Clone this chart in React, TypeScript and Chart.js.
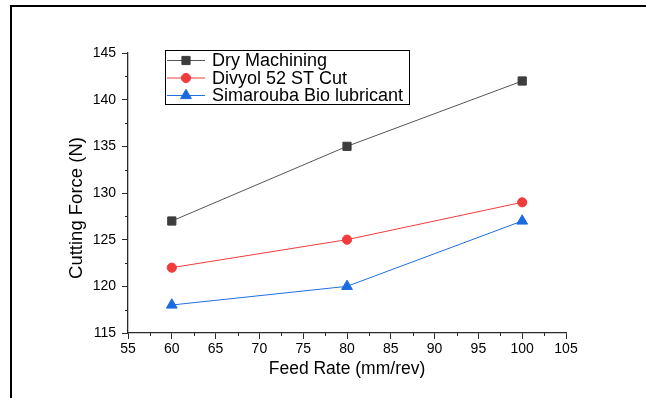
import React, { useEffect, useRef } from "react";
import { Chart, registerables } from "chart.js";
import { drawPoint } from "chart.js/helpers";

Chart.register(...registerables);

const feedRates = [60, 80, 100];
const dryMachining = [127, 135, 142];
const divyol = [122, 125, 129];
const simarouba = [118, 120, 127];
const seriesLabels = ["Dry Machining", "Divyol 52 ST Cut", "Simarouba Bio lubricant"];
const xTickRange = [55, 105];
const yTickRange = [115, 145];
const xTitle = "Feed Rate (mm/rev)";
const yTitle = "Cutting Force (N)";

const FONT = "'Liberation Sans', Arial, sans-serif";
const AXIS = "#2a2a2a";

const minorTicks = {
  id: "minorTicks",
  afterDraw(chart: any) {
    const ctx = chart.ctx;
    const xs = chart.scales.x;
    const ys = chart.scales.y;
    ctx.save();
    ctx.strokeStyle = AXIS;
    ctx.lineWidth = 1;
    for (let v = xTickRange[0] + 2.5; v < xTickRange[1]; v += 5) {
      const px = Math.round(xs.getPixelForValue(v)) + 0.5;
      ctx.beginPath();
      ctx.moveTo(px, xs.top);
      ctx.lineTo(px, xs.top + 3);
      ctx.stroke();
    }
    for (let v = yTickRange[0] + 2.5; v < yTickRange[1]; v += 5) {
      const py = Math.round(ys.getPixelForValue(v)) + 0.5;
      ctx.beginPath();
      ctx.moveTo(ys.right - 3, py);
      ctx.lineTo(ys.right, py);
      ctx.stroke();
    }
    // y-axis title (drawn slightly below the axis centre, as in the reference)
    const ya = chart.chartArea;
    ctx.translate(77, (ya.top + ya.bottom) / 2 + 15);
    ctx.rotate(-Math.PI / 2);
    ctx.fillStyle = "#000";
    ctx.font = `18.5px ${FONT}`;
    ctx.textAlign = "center";
    ctx.textBaseline = "middle";
    ctx.fillText(yTitle, 0, 0);
    ctx.restore();
  },
};

const boxLegend = {
  id: "boxLegend",
  afterDraw(chart: any) {
    const ctx = chart.ctx;
    const left = 165, top = 50, right = 409, bottom = 104;
    ctx.save();
    ctx.fillStyle = "#fff";
    ctx.fillRect(left, top, right - left, bottom - top);
    ctx.strokeStyle = "#000";
    ctx.lineWidth = 1;
    ctx.strokeRect(left + 0.5, top + 0.5, right - left, bottom - top);
    chart.data.datasets.forEach((ds: any, i: number) => {
      const y = 60.5 + i * 17.5;
      ctx.strokeStyle = ds.borderColor;
      ctx.lineWidth = 1;
      ctx.beginPath();
      ctx.moveTo(167, y);
      ctx.lineTo(205, y);
      ctx.stroke();
      ctx.fillStyle = ds.pointBackgroundColor;
      ctx.strokeStyle = ds.pointBorderColor;
      drawPoint(ctx, { pointStyle: ds.pointStyle, radius: ds.pointRadius, rotation: 0, borderWidth: 1 }, 186, y);
      ctx.fillStyle = "#000";
      ctx.font = `18px ${FONT}`;
      ctx.textBaseline = "middle";
      ctx.textAlign = "left";
      ctx.fillText(ds.label, 212, y + 1);
    });
    ctx.restore();
  },
};

export default function App() {
  const ref = useRef<HTMLCanvasElement>(null);
  useEffect(() => {
    const mk = (vals: number[]) => feedRates.map((x, i) => ({ x, y: vals[i] }));
    const chart = new Chart(ref.current!, {
      type: "line",
      data: {
        datasets: [
          {
            label: seriesLabels[0],
            data: mk(dryMachining),
            borderColor: "#555555",
            borderWidth: 1,
            pointStyle: "rect",
            pointRadius: 5.8,
            pointBackgroundColor: "#3d3d3d",
            pointBorderColor: "#3d3d3d",
          },
          {
            label: seriesLabels[1],
            data: mk(divyol),
            borderColor: "#f03c3c",
            borderWidth: 1,
            pointStyle: "circle",
            pointRadius: 4.6,
            pointBackgroundColor: "#f03c3c",
            pointBorderColor: "#f03c3c",
          },
          {
            label: seriesLabels[2],
            data: mk(simarouba),
            borderColor: "#1f6fe0",
            borderWidth: 1,
            pointStyle: "triangle",
            pointRadius: 6.2,
            pointBackgroundColor: "#1a6be0",
            pointBorderColor: "#1a6be0",
          },
        ],
      },
      options: {
        animation: false,
        responsive: false,
        maintainAspectRatio: false,
        layout: { padding: { left: 0, top: 53, right: 80, bottom: 0 } },
        plugins: { legend: { display: false }, tooltip: { enabled: false } },
        scales: {
          x: {
            type: "linear",
            min: xTickRange[0],
            max: xTickRange[1],
            afterFit: (s: any) => { s.height = 65; },
            ticks: { stepSize: 5, color: "#000", padding: 2, font: { family: FONT, size: 14 } },
            grid: { drawOnChartArea: false, drawTicks: true, tickLength: 6, tickColor: AXIS },
            border: { display: true, color: AXIS, width: 1.3 },
            title: { display: true, text: xTitle, color: "#000", font: { family: FONT, size: 17.5 }, padding: { top: 0, bottom: 18 } },
          },
          y: {
            type: "linear",
            min: yTickRange[0],
            max: yTickRange[1],
            afterFit: (s: any) => { s.width = 128; },
            ticks: { stepSize: 5, color: "#000", padding: 6, font: { family: FONT, size: 14 } },
            grid: { drawOnChartArea: false, drawTicks: true, tickLength: 6, tickColor: AXIS },
            border: { display: true, color: AXIS, width: 1.3 },
            title: { display: false },
          },
        },
      },
      plugins: [minorTicks, boxLegend],
    });
    return () => chart.destroy();
  }, []);
  return (
    <div style={{ position: "fixed", left: 0, top: 0, width: 646, height: 398, background: "#fff", overflow: "hidden" }}>
      <canvas ref={ref} width={646} height={398} style={{ position: "absolute", left: 0, top: 0 }} />
      <div style={{ position: "absolute", left: 10, top: 5, width: 660, height: 420, borderTop: "2px solid #000", borderLeft: "2px solid #000" }} />
    </div>
  );
}
